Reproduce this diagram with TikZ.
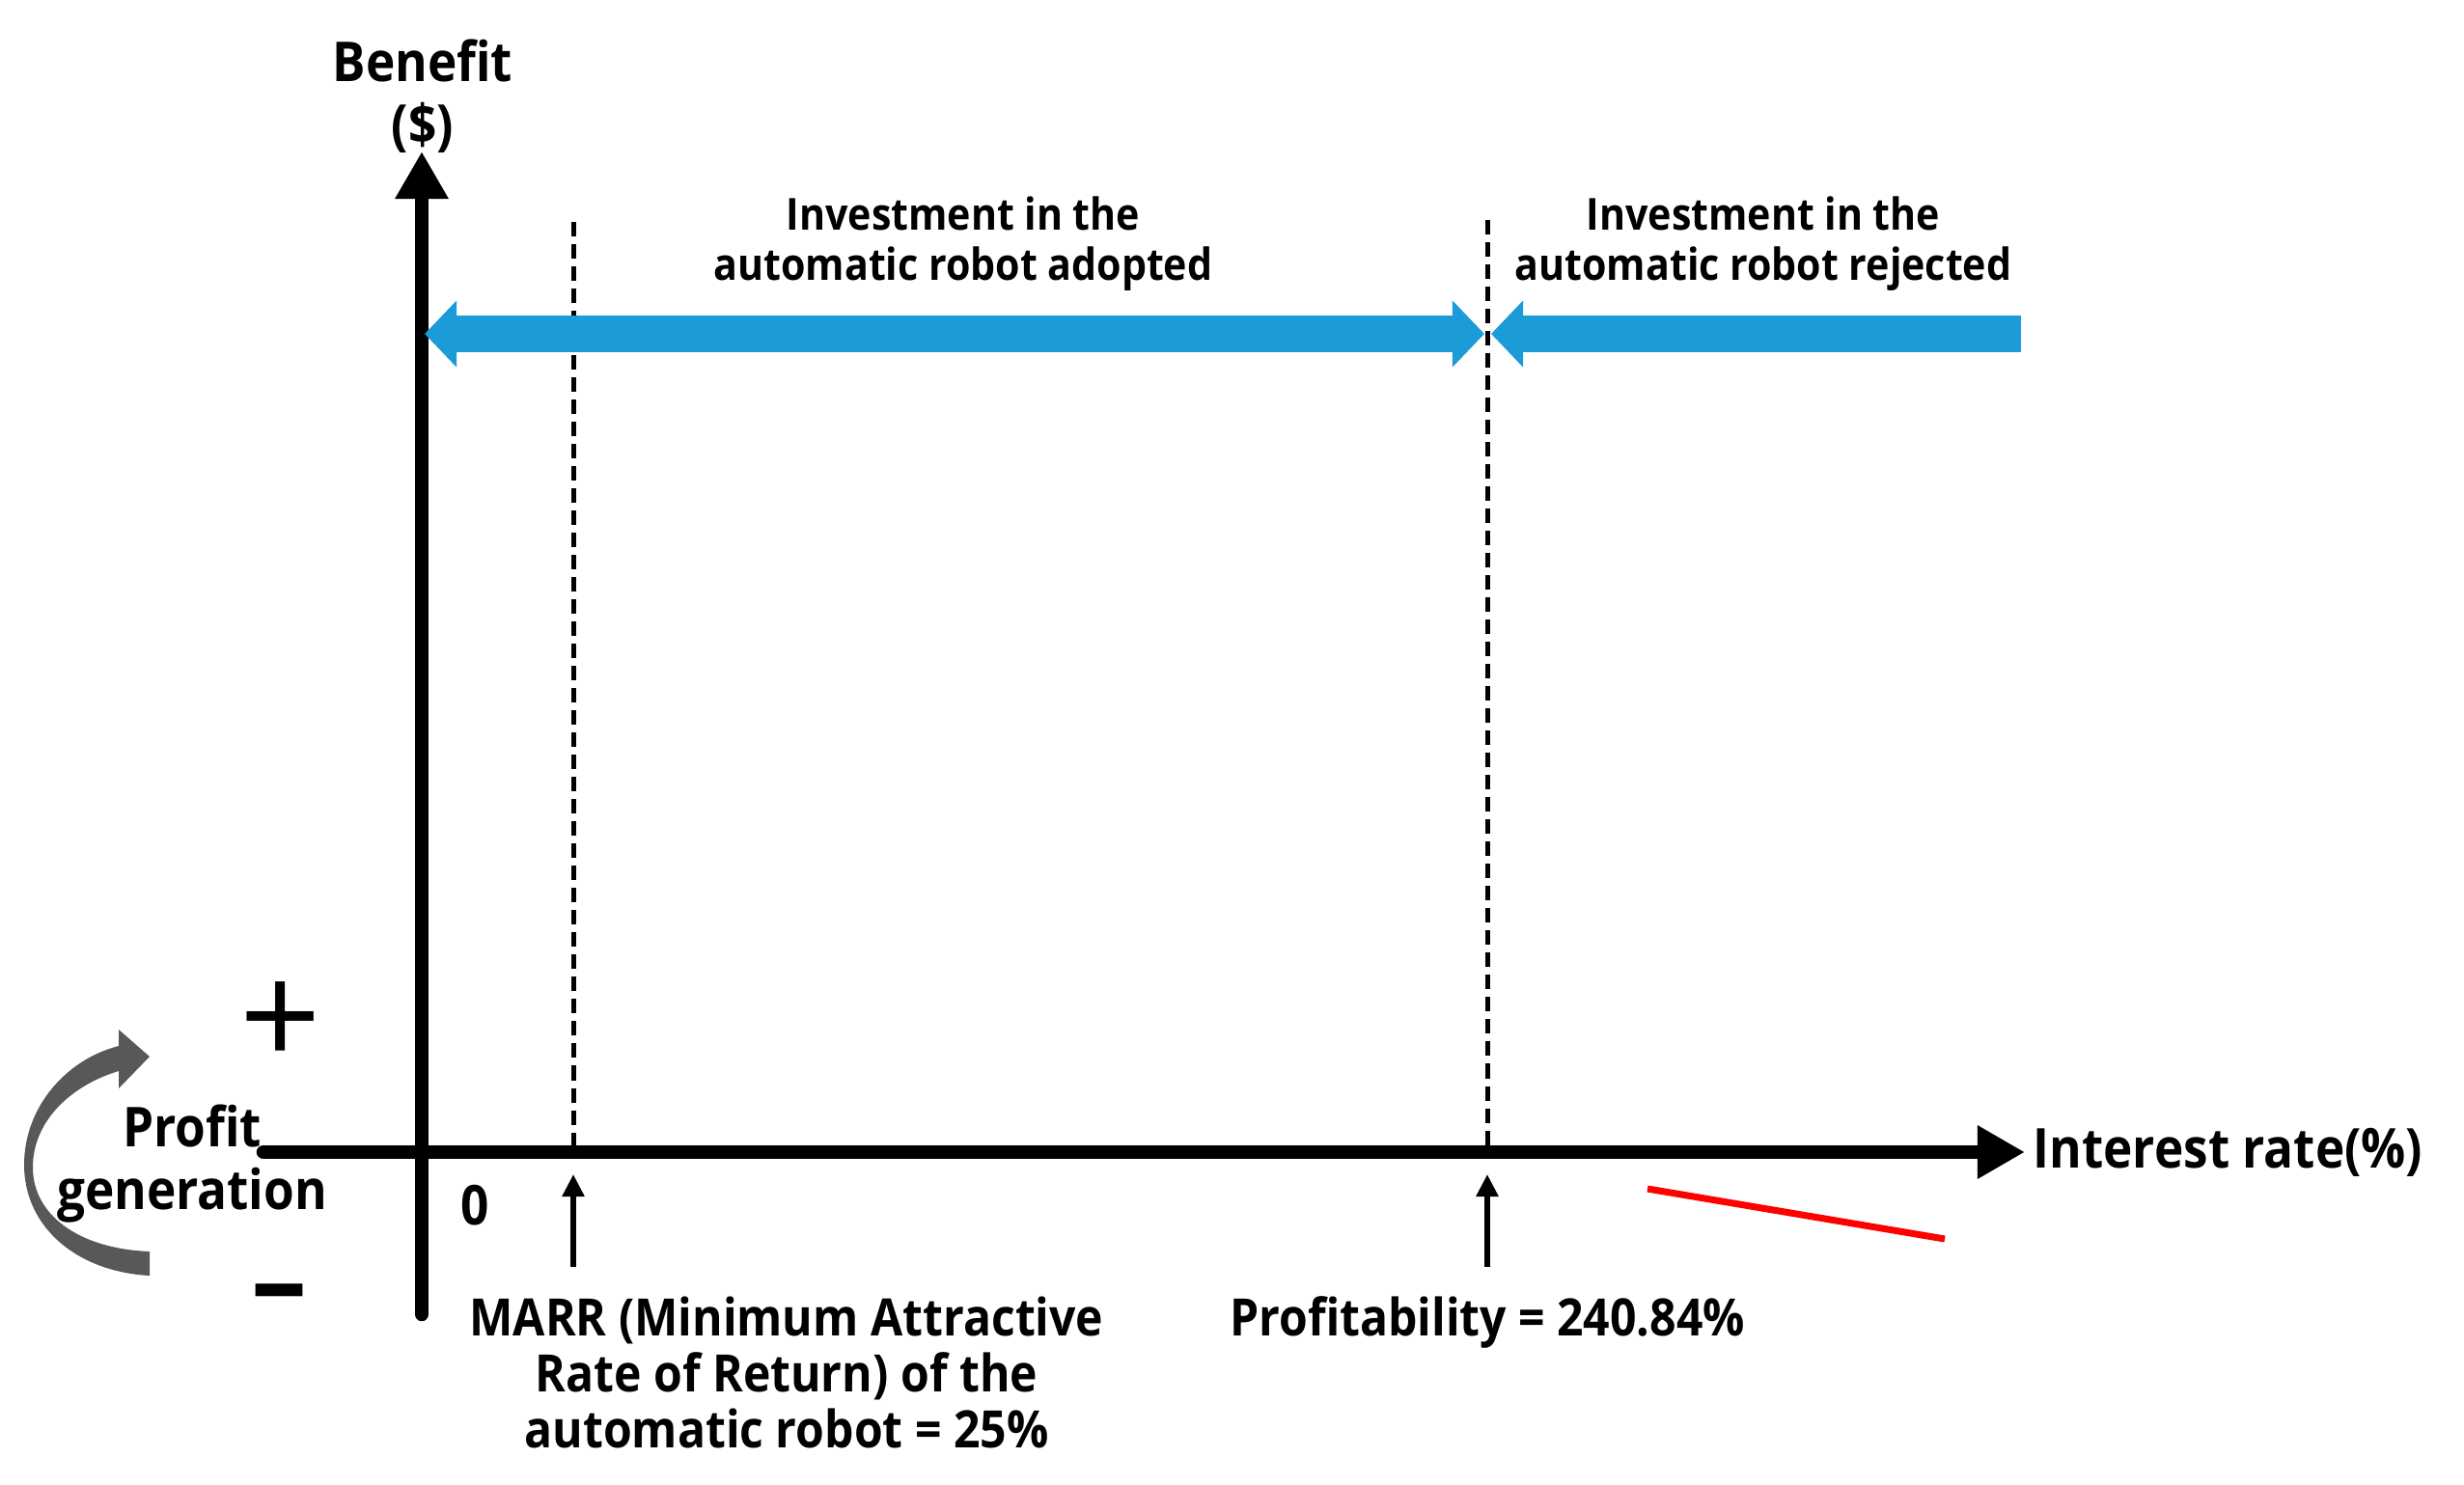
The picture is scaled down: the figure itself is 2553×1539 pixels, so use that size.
\documentclass[tikz,border=0pt]{standalone}
\usepackage{fontspec}
\setmainfont{Open Sans}[FakeStretch=0.9]
\newfontfamily\symfont{Open Sans}
\usetikzlibrary{arrows.meta}
\definecolor{arrowblue}{RGB}{27,155,215}
\definecolor{curvegray}{RGB}{88,88,88}
\begin{document}
\begin{tikzpicture}[x=0.01cm,y=-0.01cm,
  lbl/.style={font=\bfseries\fontsize{13.0pt}{14.8pt}\selectfont, inner sep=0pt, align=center},
  midlbl/.style={font=\bfseries\fontsize{15.2pt}{16.5pt}\selectfont, inner sep=0pt, align=center},
  biglbl/.style={font=\bfseries\fontsize{16.2pt}{18.5pt}\selectfont, inner sep=0pt, align=center},
  signlbl/.style={inner sep=0pt},
  axisline/.style={line width=0.145cm, line cap=round, -{Triangle[length=0.49cm,width=0.52cm]}},
  bluearrow/.style={draw=arrowblue, fill=arrowblue, line width=0.37cm},
  bluedouble/.style={bluearrow, {Triangle[length=0.33cm,width=0.67cm]}-{Triangle[length=0.33cm,width=0.67cm]}},
  bluesingle/.style={bluearrow, -{Triangle[length=0.33cm,width=0.67cm]}},
  dashline/.style={line width=0.05cm, dash pattern=on 0.15cm off 0.08cm},
  smallarrow/.style={line width=0.055cm, -{Triangle[length=0.23cm,width=0.22cm]}}
]
\useasboundingbox (0,0) rectangle (2553,1539);
% coordinates
\coordinate (ybot) at (437,1362);
\coordinate (ytop) at (437,157);
\coordinate (xleft) at (273,1194);
\coordinate (xright) at (2098,1194);
\coordinate (m1) at (594,230);
\coordinate (m2) at (594,1188);
\coordinate (p1) at (1541,228);
\coordinate (p2) at (1541,1188);
\coordinate (ma1) at (594,1313);
\coordinate (ma2) at (594,1217);
\coordinate (pa1) at (1541,1313);
\coordinate (pa2) at (1541,1217);
\coordinate (bl) at (440,346);
\coordinate (bm1) at (1538,346);
\coordinate (bm2) at (1545,346);
\coordinate (br) at (2094,346);
\coordinate (r1) at (1707,1232);
\coordinate (r2) at (2015,1284);

% curved gray arrow
\fill[curvegray] (155,1322) .. controls (80,1318) and (25,1272) .. (25,1207)
  .. controls (25,1148) and (68,1098) .. (123,1084)
  -- (123,1067) -- (155,1095) -- (123,1128) -- (123,1110)
  .. controls (76,1124) and (34,1160) .. (34,1210)
  .. controls (34,1258) and (80,1294) .. (155,1297) -- cycle;

% dashed lines
\draw[dashline] (m1) -- (m2);
\draw[dashline] (p1) -- (p2);

% axes
\draw[axisline] (xleft) -- (xright);
\draw[axisline] (ybot) -- (ytop);

% blue arrows
\draw[bluedouble] (bl) -- (bm1);
\draw[bluesingle] (br) -- (bm2);

% small arrows
\draw[smallarrow] (ma1) -- (ma2);
\draw[smallarrow] (pa1) -- (pa2);

% red line
\draw[red, line width=0.07cm] (r1) -- (r2);

% labels
\node[biglbl] (benefit) at (438,100) {Benefit\\(\$)};
\node[lbl] (adopt) at (998,253) {Investment in the\\automatic robot adopted};
\node[lbl] (reject) at (1827,253) {Investment in the\\automatic robot rejected};
\node[biglbl, anchor=base west] (irate) at (2106,1210) {Interest rate(\%)};
\node[biglbl] (zero) at (492,1249) {0};
\node[biglbl] (profit) at (199,1206) {Profit\\generation};
\node[signlbl, font=\symfont\fontsize{42pt}{42pt}\selectfont] (plus) at (291,1062) {+};
\node[signlbl, font=\symfont\bfseries\fontsize{33pt}{33pt}\selectfont] (minus) at (290,1350) {–};
\node[midlbl, anchor=base] (prof) at (1541,1384) {Profitability = 240.84\%};
\node[midlbl] (marr) at (815,1422) {MARR (Minimum Attractive\\Rate of Return) of the\\automatic robot = 25\%};
\end{tikzpicture}
\end{document}
